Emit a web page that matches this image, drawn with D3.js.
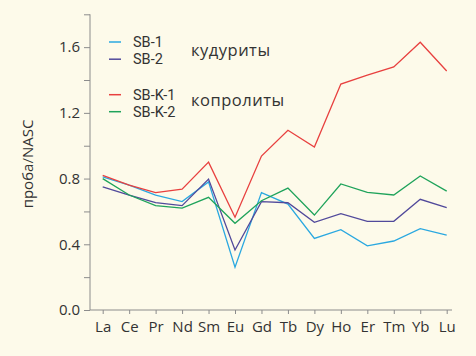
<!DOCTYPE html>
<html><head><meta charset="utf-8">
<script src="https://cdn.jsdelivr.net/npm/d3@7/dist/d3.min.js"></script>
<style>
html,body{margin:0;padding:0;background:#fdfaea;}
svg{display:block;}
text{font-family:"Open Sans","Noto Sans",sans-serif;fill:#333;}
</style></head>
<body>
<svg id="c" width="476" height="356"></svg>
<script>
const categories = ["La","Ce","Pr","Nd","Sm","Eu","Gd","Tb","Dy","Ho","Er","Tm","Yb","Lu"];
const seriesNames = ["SB-1","SB-2","SB-K-1","SB-K-2"];
const sb1  = [0.81,0.76,0.70,0.66,0.78,0.26,0.715,0.645,0.436,0.489,0.391,0.42,0.495,0.456];
const sb2  = [0.75,0.70,0.653,0.635,0.797,0.365,0.66,0.653,0.534,0.586,0.54,0.54,0.674,0.623];
const sbk1 = [0.82,0.76,0.714,0.736,0.90,0.565,0.937,1.094,0.992,1.375,1.43,1.48,1.63,1.455];
const sbk2 = [0.80,0.70,0.635,0.62,0.686,0.528,0.665,0.742,0.578,0.767,0.716,0.70,0.816,0.724];
const yTicks = [0.0,0.4,0.8,1.2,1.6];
const yMinorTicks = [0.2,0.6,1.0,1.4,1.8];
const groupLabels = ["кудуриты","копролиты"];
const colors = ["#2aa8e0","#51499b","#e8403f","#1fa35b"];

const svg = d3.select("#c");
const x = d3.scalePoint().domain(categories).range([102.7,446.7]);
const y = d3.scaleLinear().domain([0,1.8]).range([310,14.3]);

// y axis
const ya = svg.append("g").attr("transform","translate(90,0)")
  .call(d3.axisLeft(y).tickValues(yTicks.concat(yMinorTicks)).tickSize(6).tickPadding(4)
    .tickFormat(d => yTicks.some(t=>Math.abs(t-d)<1e-9) ? d3.format(".1f")(d) : ""));
ya.select(".domain").attr("stroke","#8c8c8c").attr("d","M0,"+y(1.8)+"V"+y(0));
ya.selectAll(".tick line").attr("stroke","#8c8c8c");
ya.selectAll("text").style("font-size","15px").attr("fill","#333");

// x axis
const xa = svg.append("g").attr("transform","translate(0,310)")
  .call(d3.axisBottom(x).tickSize(4).tickPadding(7));
xa.select(".domain").attr("stroke","#8c8c8c").attr("d","M90,0H452");
xa.selectAll(".tick line").attr("stroke","#8c8c8c");
xa.selectAll("text").style("font-size","15px").attr("fill","#333");

// y label
svg.append("text").attr("transform","translate(33,164) rotate(-90)")
  .attr("text-anchor","middle").style("font-size","15px").text("проба/NASC");

// lines
const data = [sb1,sb2,sbk1,sbk2];
const line = d3.line().x((d,i)=>x(categories[i])).y(d=>y(d));
data.forEach((s,k)=>{
  svg.append("path").datum(s).attr("d",line).attr("fill","none")
    .attr("stroke",colors[k]).attr("stroke-width",1.3).attr("stroke-linejoin","miter");
});

// legend
const legY = [42,59.2,94.7,111.7];
seriesNames.forEach((n,k)=>{
  svg.append("line").attr("x1",109).attr("x2",121).attr("y1",legY[k]).attr("y2",legY[k])
    .attr("stroke",colors[k]).attr("stroke-width",1.5);
  svg.append("text").attr("x",133).attr("y",legY[k]).attr("dy","0.36em")
    .style("font-family","Roboto, sans-serif").style("font-size","14.5px").text(n);
});
svg.append("text").attr("x",191).attr("y",50.7).attr("dy","0.35em").style("font-size","16.5px")
  .style("letter-spacing","0.5px").text(groupLabels[0]);
svg.append("text").attr("x",191).attr("y",100.7).attr("dy","0.35em").style("font-size","16.5px")
  .style("letter-spacing","0.5px").text(groupLabels[1]);
</script>
</body></html>
